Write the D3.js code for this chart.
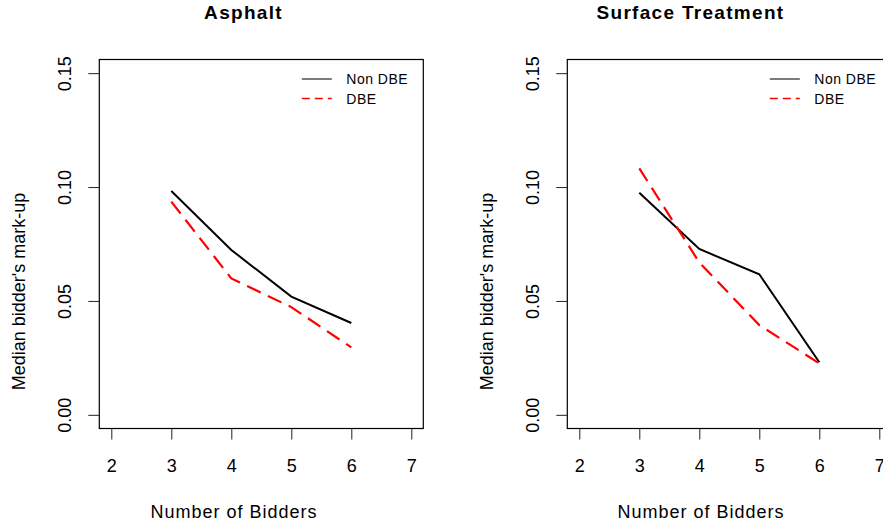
<!DOCTYPE html>
<html>
<head>
<meta charset="utf-8">
<script src="https://cdn.jsdelivr.net/npm/d3@7"></script>
<style>
    body { margin: 0; background: #fff; }
    text { font-family: "Liberation Sans", Arial, sans-serif; fill: #000; }
</style>
</head>
<body>
<div id="vis"></div>
<script>
// data
var bidders = [3, 4, 5, 6];
var asphaltNonDBE = [0.0983, 0.0724, 0.0519, 0.0403];
var asphaltDBE = [0.0936, 0.0599, 0.0473, 0.0296];
var surfaceNonDBE = [0.0975, 0.0728, 0.0617, 0.0231];
var surfaceDBE = [0.1082, 0.0669, 0.0394, 0.0226];
var xTicks = [2, 3, 4, 5, 6, 7];
var yTicks = [0, 0.05, 0.10, 0.15];
var seriesNames = ["Non DBE", "DBE"];

var width = 883;
var height = 526;

var svg = d3.select("#vis")
            .append("svg")
            .attr("width", width)
            .attr("height", height);

// panel settings (box left edge, title / x label centres)
var panels = [
    { title: "Asphalt", left: 99.3, titleX: 243.5, xlabX: 234, nonDbe: asphaltNonDBE, dbe: asphaltDBE },
    { title: "Surface Treatment", left: 567.3, titleX: 690.5, xlabX: 701, nonDbe: surfaceNonDBE, dbe: surfaceDBE }
];

var boxTop = 59.5;
var boxBottom = 428.5;
var boxWidth = 324;

panels.forEach(function(p) {
    var g = svg.append("g");

    var x = d3.scaleLinear().domain([1.8, 7.2]).range([p.left, p.left + boxWidth]);
    var y = d3.scaleLinear().domain([-0.006, 0.156]).range([boxBottom, boxTop]);

    // box
    g.append("rect")
        .attr("x", x.range()[0])
        .attr("y", boxTop)
        .attr("width", boxWidth)
        .attr("height", boxBottom - boxTop)
        .attr("fill", "none")
        .attr("stroke", "#000")
        .attr("stroke-width", 1.2);

    // x axis
    var xAxis = g.append("g")
        .attr("transform", "translate(0," + boxBottom + ")")
        .call(d3.axisBottom(x).tickValues(xTicks).tickFormat(d3.format("d"))
            .tickSize(11).tickSizeOuter(0).tickPadding(19.5));
    xAxis.select(".domain").remove();
    xAxis.selectAll("line").attr("stroke", "#222");
    xAxis.selectAll("text")
        .style("font-family", "Liberation Sans, Arial, sans-serif")
        .style("font-size", "18px")
        .attr("fill", "#000");

    // y axis, labels turned like R
    var yAxis = g.append("g")
        .attr("transform", "translate(" + p.left + ",0)")
        .call(d3.axisLeft(y).tickValues(yTicks).tickFormat(d3.format(".2f")).tickSize(11).tickSizeOuter(0));
    yAxis.select(".domain").remove();
    yAxis.selectAll("line").attr("stroke", "#222");
    yAxis.selectAll("text")
        .attr("transform", "rotate(-90)")
        .attr("x", 0)
        .attr("y", -28)
        .attr("dy", 0)
        .attr("text-anchor", "middle")
        .style("font-family", "Liberation Sans, Arial, sans-serif")
        .style("font-size", "18px")
        .attr("fill", "#000");

    // titles and axis labels
    g.append("text")
        .attr("x", p.titleX)
        .attr("y", 18.5)
        .attr("text-anchor", "middle")
        .style("font-size", "19px")
        .style("font-weight", "bold")
        .style("letter-spacing", "1.3px")
        .text(p.title);

    g.append("text")
        .attr("x", p.xlabX)
        .attr("y", 518)
        .attr("text-anchor", "middle")
        .style("font-size", "18px")
        .style("letter-spacing", "1px")
        .text("Number of Bidders");

    g.append("text")
        .attr("transform", "translate(" + (p.left - 74) + ",291.5) rotate(-90)")
        .attr("text-anchor", "middle")
        .style("font-size", "18px")
        .text("Median bidder's mark-up");

    // lines
    var line = d3.line()
        .x(function(d, i) { return x(bidders[i]); })
        .y(function(d) { return y(d); });

    g.append("path")
        .datum(p.nonDbe)
        .attr("d", line)
        .attr("fill", "none")
        .attr("stroke", "#000")
        .attr("stroke-width", 2);

    g.append("path")
        .datum(p.dbe)
        .attr("d", line)
        .attr("fill", "none")
        .attr("stroke", "#ff0000")
        .attr("stroke-width", 2.2)
        .attr("stroke-dasharray", "15,8");

    // legend
    var lx = p.left + boxWidth - 121.5;
    var legend = g.append("g").attr("transform", "translate(" + lx + ",79)");
    seriesNames.forEach(function(name, i) {
        legend.append("line")
            .attr("x1", 0).attr("x2", 30)
            .attr("y1", i * 19.5).attr("y2", i * 19.5)
            .attr("stroke", i == 0 ? "#333" : "#ff0000")
            .attr("stroke-width", 1.3)
            .attr("stroke-dasharray", i == 0 ? null : "8,5");
        legend.append("text")
            .attr("x", 44.5)
            .attr("y", i * 19.5 + 5)
            .style("font-size", "14px")
            .style("letter-spacing", "0.5px")
            .text(name);
    });
});
</script>
</body>
</html>
